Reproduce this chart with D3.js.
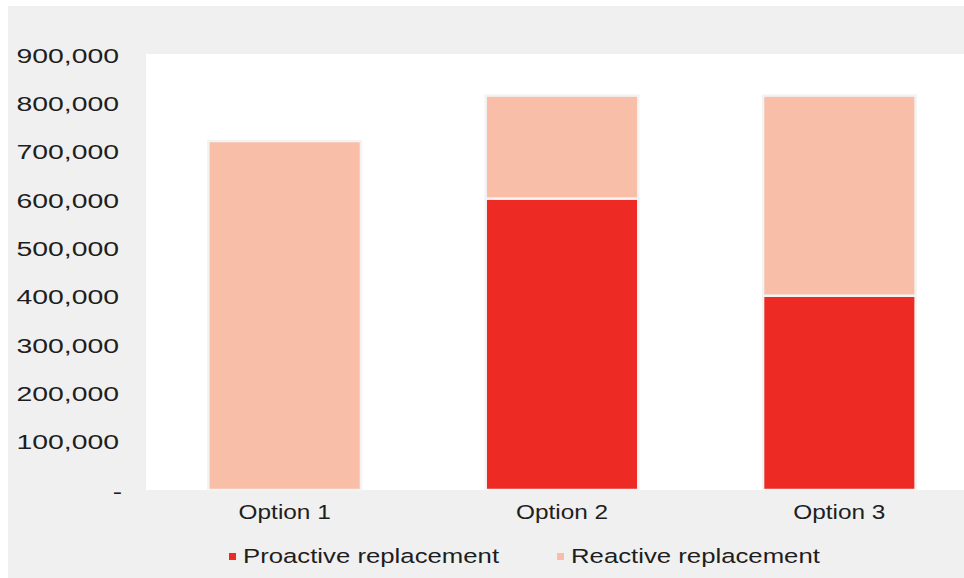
<!DOCTYPE html>
<html>
<head>
<meta charset="utf-8">
<script src="https://cdn.jsdelivr.net/npm/d3@7"></script>
<style>
    html, body { margin: 0; padding: 0; background: #fff; }
    svg { display: block; font-family: "Liberation Sans", Arial, sans-serif; }
</style>
</head>
<body>
<div id="chart"></div>
<script>
// Chart data
const categories = ["Option 1", "Option 2", "Option 3"];
const proactive = [0, 603000, 402000];
const reactive = [722000, 213000, 414000];
const seriesNames = ["Proactive replacement", "Reactive replacement"];
const yTicks = [0, 100000, 200000, 300000, 400000, 500000, 600000, 700000, 800000, 900000];

const width = 964, height = 578;
const margin = {top: 55, right: -14, bottom: 88, left: 146};
const colors = ["#ed2a24", "#f9bea8"];

const svg = d3.select("#chart")
    .append("svg")
    .attr("width", width)
    .attr("height", height);

// Grey panel and white plot area
svg.append("rect")
    .attr("x", 8).attr("y", 6)
    .attr("width", width - 8).attr("height", height - 6)
    .attr("fill", "#f0f0f0");

const x = d3.scaleBand()
    .domain(categories)
    .range([margin.left, width - margin.right])
    .paddingInner(0.45)
    .paddingOuter(0.225);

const y = d3.scaleLinear()
    .domain([0, 900000])
    .range([height - margin.bottom, margin.top]);

svg.append("rect")
    .attr("x", margin.left).attr("y", y(900000) - 1)
    .attr("width", width - margin.left)
    .attr("height", y(0) - y(900000) + 1)
    .attr("fill", "#fff");

// Stack the two series
const rows = categories.map((c, i) => ({cat: c, p: proactive[i], r: reactive[i]}));
const stack = d3.stack().keys(["p", "r"])(rows);

svg.append("g")
    .selectAll("g")
    .data(stack)
    .join("g")
    .attr("fill", (d, i) => colors[i])
    .selectAll("rect")
    .data(d => d.filter(s => s[1] - s[0] > 0))
    .join("rect")
    .attr("x", d => x(d.data.cat))
    .attr("y", d => y(d[1]))
    .attr("width", x.bandwidth())
    .attr("height", d => y(d[0]) - y(d[1]))
    .attr("stroke", "#f3f3f3")
    .attr("stroke-width", 2.5);

// Y axis labels
const fmt = d3.format(",");
svg.append("g")
    .attr("font-size", 20)
    .attr("fill", "#1e1e1e")
    .attr("text-anchor", "end")
    .selectAll("text")
    .data(yTicks)
    .join("text")
    .attr("transform", d => d === 0
        ? `translate(122,${y(d) + 2}) scale(1.4,1)`
        : `translate(119,${y(d) + 0.5}) scale(1.42,1)`)
    .attr("dy", "0.35em")
    .text(d => d === 0 ? "-" : fmt(d));

// X axis labels
svg.append("g")
    .attr("font-size", 19.5)
    .attr("fill", "#1e1e1e")
    .attr("text-anchor", "middle")
    .selectAll("text")
    .data(categories)
    .join("text")
    .attr("transform", d => `translate(${x(d) + x.bandwidth() / 2},519) scale(1.25,1)`)
    .text(d => d);

// Legend
const legendX = [229, 557];
const legend = svg.append("g")
    .selectAll("g")
    .data(seriesNames)
    .join("g")
    .attr("transform", (d, i) => `translate(${legendX[i]},556)`);

legend.append("rect")
    .attr("x", 0).attr("y", -3)
    .attr("width", 7).attr("height", 7)
    .attr("fill", (d, i) => colors[i]);

legend.append("text")
    .attr("transform", "translate(14,0) scale(1.32,1)")
    .attr("dy", "0.35em")
    .attr("font-size", 19.5)
    .attr("fill", "#1e1e1e")
    .text(d => d);
</script>
</body>
</html>
